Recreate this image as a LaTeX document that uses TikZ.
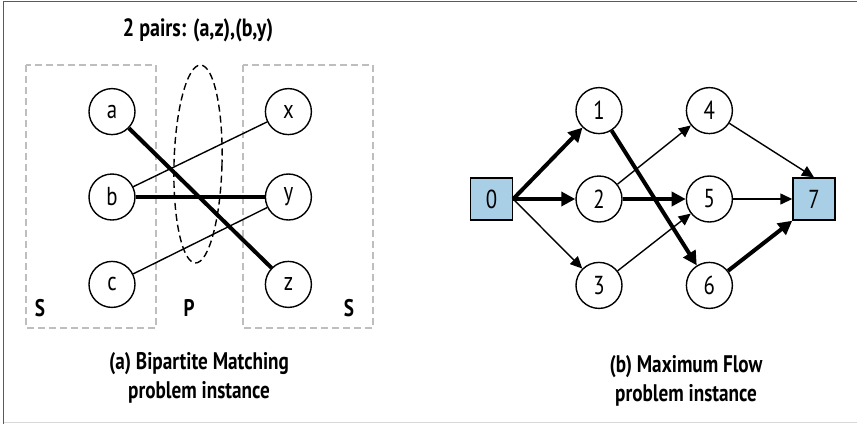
\documentclass[tikz,border=0pt]{standalone}
\usepackage{fontspec}
\setmainfont{PT Sans}[FakeStretch=0.8]
\usepackage{tikz}
\usetikzlibrary{arrows.meta,positioning,shapes.geometric}
\definecolor{srcblue}{RGB}{168,207,230}
\definecolor{boxgray}{RGB}{190,190,190}
\definecolor{framegray}{RGB}{90,90,90}
\tikzset{
  vtx/.style={circle,draw=black,line width=1.4pt,fill=white,minimum size=46pt,inner sep=0pt,font=\fontsize{26}{26}\selectfont},
  term/.style={rectangle,draw=black,line width=1.4pt,fill=srcblue,minimum size=42pt,inner sep=0pt,font=\fontsize{26}{26}\selectfont},
  thin/.style={line width=1.4pt},
  heavy/.style={line width=4pt},
  farr/.style={thin,-{Triangle[length=12pt,width=11pt]}},
  harr/.style={heavy,-{Triangle[length=14pt,width=14pt]}},
  grp/.style={draw=boxgray,line width=1.5pt,dash pattern=on 7pt off 4pt},
  lbl/.style={font=\bfseries\fontsize{24}{29}\selectfont,align=center},
}
\begin{document}
\begin{tikzpicture}[x=1pt,y=-1pt]
  \useasboundingbox (0,0) rectangle (857,424);
  % frame
  \draw[framegray,line width=1.5pt] (3.5,424) -- (3.5,1.5) -- (857,1.5);
  \draw[boxgray!60,line width=1.5pt] (3.5,422.5) -- (857,422.5);

  % (a) bipartite matching
  \node[lbl,font=\bfseries\fontsize{25}{25}\selectfont] (ttl) at (198,30) {2 pairs: (a,z),(b,y)};
  \draw[grp] (26,65) rectangle (156,328);
  \draw[grp] (243,65) rectangle (373,328);
  \draw[line width=1.4pt,dash pattern=on 7pt off 4pt,rotate around={-1.5:(198,164)}] (198,164) ellipse [x radius=24,y radius=99];
  \node[vtx] (b) at (112,197) {b};
  \node[vtx,above=38pt of b] (a) {a};
  \node[vtx,below=40pt of b] (c) {c};
  \node[vtx,right=129pt of b] (y) {y};
  \node[vtx,above=38pt of y] (x) {x};
  \node[vtx,below=40pt of y] (z) {z};
  \draw[thin] (b) -- (x);
  \draw[thin] (c) -- (y);
  \draw[heavy] (a) -- (z);
  \draw[heavy] (b) -- (y);
  \node[lbl] (s1) at (40,308) {S};
  \node[lbl] (p) at (189,308) {P};
  \node[lbl] (s2) at (349,308) {S};
  \node[lbl] (capa) at (199,378) {(a) Bipartite Matching\\problem instance};

  % (b) maximum flow
  \node[term] (n0) at (491.5,199) {0};
  \node[vtx] (n2) at (599,199) {2};
  \node[vtx,above=41pt of n2] (n1) {1};
  \node[vtx,below=39pt of n2] (n3) {3};
  \node[vtx,right=63pt of n2] (n5) {5};
  \node[vtx,above=41pt of n5] (n4) {4};
  \node[vtx,below=39pt of n5] (n6) {6};
  \node[term] (n7) at (814,199) {7};
  \draw[harr] (n0.east) -- (n1);
  \draw[harr] (n0) -- (n2);
  \draw[farr] (n0.east) -- (n3);
  \draw[harr] (n1) -- (n6);
  \draw[farr] (n2) -- (n4);
  \draw[harr] (n2) -- (n5);
  \draw[farr] (n3) -- (n5);
  \draw[farr] (n4) -- (n7.north);
  \draw[farr] (n5) -- (n7);
  \draw[harr] (n6) -- (n7.south west);
  \node[lbl] (capb) at (686,381) {(b) Maximum Flow\\problem instance};
\end{tikzpicture}
\end{document}
